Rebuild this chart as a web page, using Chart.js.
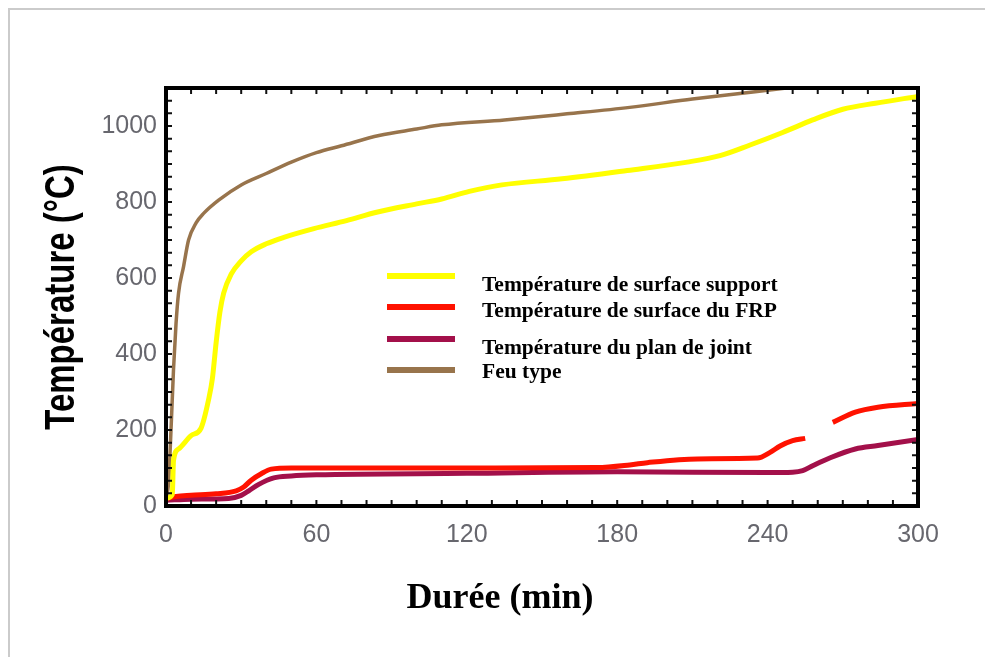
<!DOCTYPE html>
<html>
<head>
<meta charset="utf-8">
<script src="https://cdn.jsdelivr.net/npm/chart.js@4/dist/chart.umd.min.js"></script>
<style>
  body { margin: 0; background: #fff; }
  #wrap { position: relative; width: 985px; height: 657px; overflow: hidden; }
  #edge { position: absolute; left: 8px; top: 8px; width: 1000px; height: 700px;
          border-left: 2px solid #cbcbcb; border-top: 2px solid #cbcbcb; }
  #myChart { position: absolute; left: 0; top: 0; }
</style>
</head>
<body>
<div id="wrap">
  <div id="edge"></div>
  <canvas id="myChart" width="985" height="657"></canvas>
</div>
<script>
// values (minutes, degrees C)
const xTicks = [0, 60, 120, 180, 240, 300];
const yTicks = [0, 200, 400, 600, 800, 1000];

const labels = [
  'Température de surface support',
  'Température de surface du FRP',
  'Température du plan de joint',
  'Feu type'
];

const supportTime = [0, 2.5, 3, 5, 10, 14, 17, 18.5, 20, 21.5, 23, 26, 30, 34, 40, 47, 59, 72, 84, 100, 110, 121, 134, 158, 184, 208, 221, 233, 246, 258, 270, 283, 300];
const supportTemp = [20, 30, 120, 150, 185, 205, 280, 335, 430, 510, 560, 610, 645, 669, 690, 707, 730, 751, 773, 795, 808, 828, 845, 861, 883, 905, 922, 950, 983, 1016, 1044, 1060, 1078];

const frpTime = [0, 4, 10, 20, 28, 31, 34, 38, 42, 50, 120, 172, 185, 192, 212, 236, 241, 245, 250, 255, 260, 266, 275, 284, 300];
const frpTemp = [20, 25, 28, 32, 40, 50, 68, 85, 97, 100, 100, 101, 108, 114, 124, 126, 141, 158, 172, 178, null, 220, 247, 260, 270];

const jointTime = [0, 10, 25, 30, 33, 37, 43, 50, 60, 120, 180, 240, 250, 254, 258, 265, 275, 284, 300];
const jointTemp = [15, 18, 20, 28, 40, 57, 74, 79, 82, 86, 90, 88, 89, 93, 106, 127, 150, 159, 175];

const feuTime = [0, 1, 2, 3, 4, 5, 7, 9, 12, 15, 21, 30, 40, 50, 60, 70, 85, 100, 110, 135, 160, 185, 210, 235, 250, 300];
const feuTemp = [20, 60, 200, 360, 480, 560, 630, 700, 745, 770, 805, 845, 875, 905, 930, 948, 975, 992, 1003, 1016, 1032, 1049, 1071, 1090, 1102, 1140];

const colors = ['#ffff00', '#ff1200', '#a3104a', '#98744c'];
const widths = [5, 5, 5, 3.5];

const pts = (xs, ys) => xs.map((x, i) => ({ x: x, y: ys[i] }));

// frame with small inner ticks, drawn over the curves
const framePlugin = {
  id: 'frame',
  afterDatasetsDraw(chart) {
    const { ctx, chartArea: a, scales } = chart;
    ctx.save();
    ctx.strokeStyle = '#111';
    ctx.lineWidth = 2;
    for (let t = 0; t <= 300; t += 10) {
      const px = scales.x.getPixelForValue(t);
      ctx.beginPath();
      ctx.moveTo(px, a.top); ctx.lineTo(px, a.top + 6);
      ctx.moveTo(px, a.bottom); ctx.lineTo(px, a.bottom - 6);
      ctx.stroke();
    }
    for (let v = 0; v <= 1100; v += 100 / 3) {
      const py = scales.y.getPixelForValue(v);
      ctx.beginPath();
      ctx.moveTo(a.left, py); ctx.lineTo(a.left + 6, py);
      ctx.moveTo(a.right, py); ctx.lineTo(a.right - 6, py);
      ctx.stroke();
    }
    ctx.lineWidth = 4;
    ctx.strokeStyle = '#000';
    ctx.strokeRect(a.left, a.top, a.right - a.left, a.bottom - a.top);
    ctx.restore();
  }
};

// legend inside the plot, from the datasets
const legendPlugin = {
  id: 'innerLegend',
  afterDraw(chart) {
    const ctx = chart.ctx;
    const lineY = [276, 307, 339, 370];
    const textY = [285, 311, 348, 372];
    ctx.save();
    chart.data.datasets.forEach((ds, i) => {
      ctx.strokeStyle = ds.borderColor;
      ctx.lineWidth = 6;
      ctx.beginPath();
      ctx.moveTo(387, lineY[i]);
      ctx.lineTo(455, lineY[i]);
      ctx.stroke();
      ctx.fillStyle = '#000';
      ctx.font = 'bold 21.5px "Liberation Serif", "Times New Roman", serif';
      ctx.textBaseline = 'middle';
      ctx.fillText(ds.label, 482, textY[i]);
    });
    ctx.restore();
  }
};

// axis titles: the vertical one is a bit stretched like the original
const titlesPlugin = {
  id: 'titles',
  afterDraw(chart) {
    const ctx = chart.ctx;
    ctx.save();
    ctx.fillStyle = '#000';
    ctx.textAlign = 'center';
    ctx.textBaseline = 'middle';
    ctx.font = 'bold 36px "Liberation Serif", "Times New Roman", serif';
    ctx.fillText('Durée (min)', 500, 599);
    ctx.translate(62, 297);
    ctx.rotate(-Math.PI / 2);
    ctx.scale(1, 1.3);
    ctx.font = 'bold 33px "Liberation Sans", Arial, sans-serif';
    ctx.fillText('Température (°C)', 0, 0);
    ctx.restore();
  }
};

const tickFont = { family: '"Liberation Sans", Arial, sans-serif', size: 25 };

const chart = new Chart(document.getElementById('myChart'), {
  type: 'line',
  data: {
    datasets: [
      { label: labels[0], data: pts(supportTime, supportTemp) },
      { label: labels[1], data: pts(frpTime, frpTemp) },
      { label: labels[2], data: pts(jointTime, jointTemp) },
      { label: labels[3], data: pts(feuTime, feuTemp) }
    ].map((d, i) => Object.assign(d, {
      borderColor: colors[i],
      borderWidth: widths[i],
      pointRadius: 0,
      fill: false,
      spanGaps: false,
      cubicInterpolationMode: 'monotone'
    }))
  },
  options: {
    responsive: false,
    animation: false,
    layout: { padding: { left: 0, top: 88, right: 67, bottom: 0 } },
    plugins: { legend: { display: false }, tooltip: { enabled: false } },
    scales: {
      x: {
        type: 'linear', min: 0, max: 300,
        afterFit: s => { s.height = 151; },
        afterBuildTicks: s => { s.ticks = xTicks.map(v => ({ value: v })); },
        grid: { display: false, drawTicks: false },
        border: { display: false },
        ticks: { color: '#67676e', font: tickFont, padding: 14, maxRotation: 0,
                 callback: v => String(v) }
      },
      y: {
        type: 'linear', min: 0, max: 1100,
        afterFit: s => { s.width = 166; },
        afterBuildTicks: s => { s.ticks = yTicks.map(v => ({ value: v })); },
        grid: { display: false, drawTicks: false },
        border: { display: false },
        ticks: { color: '#67676e', font: tickFont, padding: 9,
                 callback: v => String(v) }
      }
    }
  },
  plugins: [framePlugin, legendPlugin, titlesPlugin]
});
</script>
</body>
</html>
